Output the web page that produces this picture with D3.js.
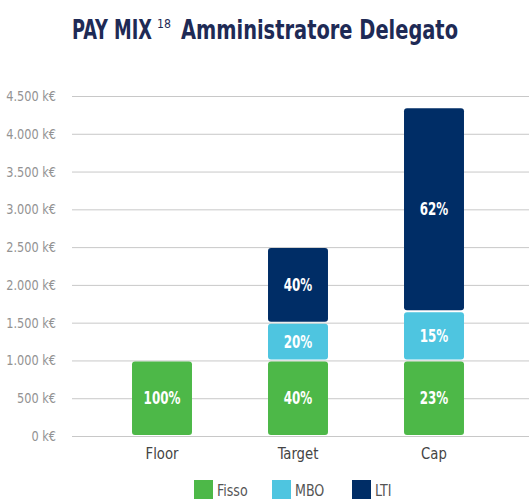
<!DOCTYPE html>
<html>
<head>
<meta charset="utf-8">
<script src="https://cdn.jsdelivr.net/npm/d3@7"></script>
<style>
  body { margin: 0; background: #fff; }
  svg { display: block; font-family: "DejaVu Sans Condensed", "Roboto", sans-serif; }
</style>
</head>
<body>
<div id="chart"></div>
<script>
const width = 529;
const height = 501;
const margin = { top: 96, right: 0, bottom: 65, left: 72 };

// data (k€)
const categories = ["Floor", "Target", "Cap"];
const seriesNames = ["Fisso", "MBO", "LTI"];
const fisso = [1000, 1000, 1000];
const mbo = [0, 500, 650];
const lti = [0, 1000, 2700];
const pctFisso = ["100%", "40%", "23%"];
const pctMbo = ["", "20%", "15%"];
const pctLti = ["", "40%", "62%"];
const yTicks = [0, 500, 1000, 1500, 2000, 2500, 3000, 3500, 4000, 4500];

const colors = { Fisso: "#4db848", MBO: "#4ec5e0", LTI: "#002d66" };

const svg = d3.select("#chart")
    .append("svg")
    .attr("width", width)
    .attr("height", height);

// title (condensed by fitting each piece to its width)
const titleG = svg.append("g")
    .style("fill", "#1e2a55");
titleG.append("text")
    .attr("x", 72).attr("y", 39)
    .attr("textLength", 80).attr("lengthAdjust", "spacingAndGlyphs")
    .style("font-size", "27px").style("font-weight", "bold")
    .text("PAY MIX");
titleG.append("text")
    .attr("x", 157).attr("y", 28)
    .attr("textLength", 14).attr("lengthAdjust", "spacingAndGlyphs")
    .style("font-size", "13px")
    .text("18");
titleG.append("text")
    .attr("x", 181).attr("y", 39)
    .attr("textLength", 277).attr("lengthAdjust", "spacingAndGlyphs")
    .style("font-size", "27px").style("font-weight", "bold")
    .text("Amministratore Delegato");

const x = d3.scaleBand()
    .domain(categories)
    .range([94, 502])
    .paddingInner(0.559)
    .paddingOuter(0.2795);

const y = d3.scaleLinear()
    .domain([0, 4500])
    .range([height - margin.bottom, margin.top]);

// grid
svg.append("g")
    .selectAll("line")
    .data(yTicks)
    .join("line")
    .attr("x1", margin.left)
    .attr("x2", width)
    .attr("y1", d => y(d) + 0.5)
    .attr("y2", d => y(d) + 0.5)
    .attr("stroke", "#c8c8c8")
    .attr("stroke-width", 1);

// y labels
svg.append("g")
    .selectAll("text")
    .data(yTicks)
    .join("text")
    .attr("transform", d => `translate(56,${y(d) + 5}) scale(0.9,1)`)
    .attr("text-anchor", "end")
    .style("font-size", "14px")
    .style("fill", "#939393")
    .text(d => d3.format(",")(d).replace(/,/g, ".") + " k\u20ac");

// stacked segments
const rows = categories.map((c, i) => ({ cat: c, Fisso: fisso[i], MBO: mbo[i], LTI: lti[i] }));
const stack = d3.stack().keys(seriesNames)(rows);
const labels = { Fisso: pctFisso, MBO: pctMbo, LTI: pctLti };

stack.forEach(layer => {
    const key = layer.key;
    const g = svg.append("g");
    const segs = layer.map((d, i) => ({ y0: d[0], y1: d[1], cat: categories[i], label: labels[key][i] }))
        .filter(d => d.y1 > d.y0);
    g.selectAll("rect")
        .data(segs)
        .join("rect")
        .attr("x", d => x(d.cat))
        .attr("width", x.bandwidth())
        .attr("y", d => y(d.y1) + 1)
        .attr("height", d => y(d.y0) - y(d.y1) - 2)
        .attr("rx", 3)
        .attr("fill", colors[key]);
    g.selectAll("text")
        .data(segs)
        .join("text")
        .attr("transform", d => `translate(${x(d.cat) + x.bandwidth() / 2},${(y(d.y0) + y(d.y1)) / 2 + 6}) scale(0.78,1)`)
        .attr("text-anchor", "middle")
        .style("font-size", "17px")
        .style("font-weight", "bold")
        .style("fill", "#ffffff")
        .text(d => d.label);
});

// x labels
svg.append("g")
    .selectAll("text")
    .data(categories)
    .join("text")
    .attr("transform", d => `translate(${x(d) + x.bandwidth() / 2},459) scale(0.92,1)`)
    .attr("text-anchor", "middle")
    .style("font-size", "16px")
    .style("fill", "#444")
    .text(d => d);

// legend
const legendX = [194, 272, 352];
const legend = svg.append("g")
    .selectAll("g")
    .data(seriesNames)
    .join("g")
    .attr("transform", (d, i) => `translate(${legendX[i]}, 480)`);
legend.append("rect")
    .attr("width", 19)
    .attr("height", 19)
    .attr("fill", d => colors[d]);
legend.append("text")
    .attr("transform", "translate(23,16) scale(0.88,1)")
    .style("font-size", "16px")
    .style("fill", "#555")
    .text(d => d);
</script>
</body>
</html>
